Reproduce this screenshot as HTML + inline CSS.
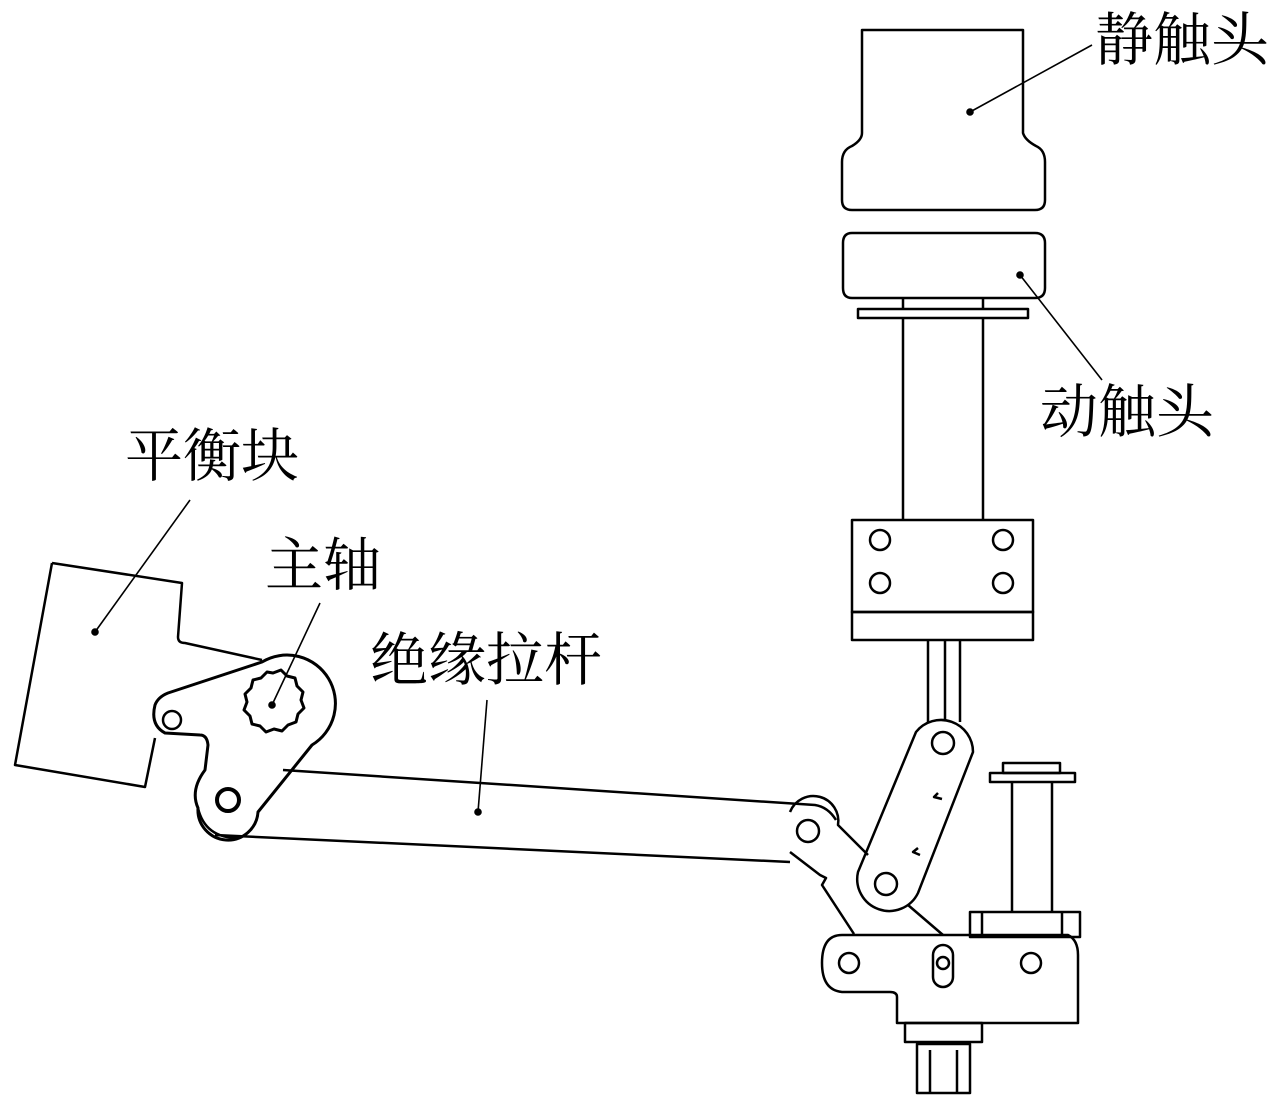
<!DOCTYPE html>
<html><head><meta charset="utf-8"><style>
html,body{margin:0;padding:0;background:#fff;}
svg{display:block}
text{font-family:"Liberation Serif","Noto Serif CJK SC","Noto Sans CJK SC",serif;font-size:58px;fill:#000}
</style></head><body>
<svg width="1276" height="1101" viewBox="0 0 1276 1101" xmlns="http://www.w3.org/2000/svg">
<g fill="none" stroke="#000" stroke-width="2.5" stroke-linejoin="round">
<path d="M862,30 L1023,30 L1023,133 Q1025,140 1036,146 Q1045,150 1045,162 L1045,200 Q1045,210 1035,210 L852,210 Q842,210 842,200 L842,162 Q842,150 852,146 Q862,140 862,133 Z"/>
<path d="M852,233 L1035,233 Q1045,233 1045,243 L1045,288 Q1045,298 1035,298 L852,298 Q843,298 843,288 L843,243 Q843,233 852,233 Z"/>
<line x1="903" y1="298" x2="903" y2="308"/><line x1="983" y1="298" x2="983" y2="308"/>
<rect x="858" y="309" width="170" height="9"/>
<line x1="903" y1="318" x2="903" y2="520"/><line x1="983" y1="318" x2="983" y2="520"/>
<rect x="852" y="520" width="181" height="92"/>
<rect x="852" y="612" width="181" height="28"/>
<circle cx="880" cy="540" r="10"/><circle cx="1003" cy="540" r="10"/>
<circle cx="880" cy="583" r="10"/><circle cx="1003" cy="583" r="10"/>
<line x1="928" y1="640" x2="928" y2="722"/><line x1="945" y1="640" x2="945" y2="720"/><line x1="960" y1="640" x2="960" y2="722"/>
<path d="M916,732 A32,32 0 0 1 973,752 L918,893 A32,32 0 0 1 858,872 Z"/>
<circle cx="943" cy="743" r="11"/><circle cx="886" cy="884" r="11"/>
<path d="M938,793 l-4,4 l8,2" /><path d="M918,848 l-5,4 l7,3"/>
<path d="M790,812 A25,25 0 0 1 838,825 L868,855"/>
<path d="M790,852 L820,875 L826,878 L822,885 L854,934"/>
<path d="M908,905 L943,935"/>
<circle cx="808" cy="831" r="11"/>
<rect x="1003" y="763" width="57" height="10"/>
<rect x="990" y="773" width="85" height="9"/>
<line x1="1012" y1="782" x2="1012" y2="912"/><line x1="1052" y1="782" x2="1052" y2="912"/>
<rect x="970" y="912" width="110" height="25"/>
<line x1="982" y1="912" x2="982" y2="937"/><line x1="1062" y1="912" x2="1062" y2="937"/>
<path d="M842,935 L1068,935 Q1078,940 1078,955 L1078,1023 L897,1023 L897,997 Q897,992 890,992 L842,992 Q822,990 822,963 Q822,935 842,935 Z"/>
<circle cx="849" cy="963" r="10"/><circle cx="1031" cy="963" r="10"/>
<rect x="933" y="945" width="20" height="42" rx="10"/>
<circle cx="943" cy="963" r="6"/>
<rect x="905" y="1023" width="77" height="19"/>
<rect x="917" y="1044" width="53" height="49"/>
<line x1="930" y1="1050" x2="930" y2="1093"/><line x1="957" y1="1050" x2="957" y2="1093"/>
<path d="M283,770 L815,805 Q828,807 836,820"/>
<path d="M215,835 L790,862"/>
<path d="M52,563 L182,583 L178,637 Q178,643 185,643 L262,660"/>
<path d="M155,738 L145,787 L15,765 L52,563"/>
<path d="M262,662 A45,45 0 0 1 312,745 L258,812 A30,30 0 0 1 198,808 Q190,790 205,770 L208,745 Q207,735 200,735 L165,733 Q150,725 155,705 Q158,697 168,693 Z" stroke-width="3"/>
<path d="M198,808 Q205,838 238,838" />
<circle cx="172" cy="720" r="9"/>
<circle cx="228" cy="800" r="11" stroke-width="4"/>
<path d="M273,673 l8,-3 l6,6 l8,2 l2,8 l6,6 l-2,8 l3,8 l-6,6 l-2,8 l-8,3 l-6,6 l-8,-2 l-8,3 l-6,-6 l-8,-2 l-2,-8 l-6,-6 l3,-8 l-2,-8 l6,-6 l2,-8 l8,-2 l6,-6 Z" stroke-width="3"/>
</g>
<g stroke="#000" stroke-width="1.6" fill="#000">
<line x1="1092" y1="45" x2="970" y2="112"/><circle cx="970" cy="112" r="3"/>
<line x1="1102" y1="380" x2="1020" y2="275"/><circle cx="1020" cy="275" r="3"/>
<line x1="190" y1="500" x2="95" y2="632"/><circle cx="95" cy="632" r="3"/>
<line x1="320" y1="603" x2="272" y2="705"/><circle cx="272" cy="705" r="3"/>
<line x1="487" y1="700" x2="478" y2="812"/><circle cx="478" cy="812" r="3"/>
</g>
<text x="1095" y="60">静触头</text>
<text x="1040" y="432">动触头</text>
<text x="125" y="476">平衡块</text>
<text x="265" y="585">主轴</text>
<text x="370" y="680">绝缘拉杆</text>
</svg>
</body></html>
